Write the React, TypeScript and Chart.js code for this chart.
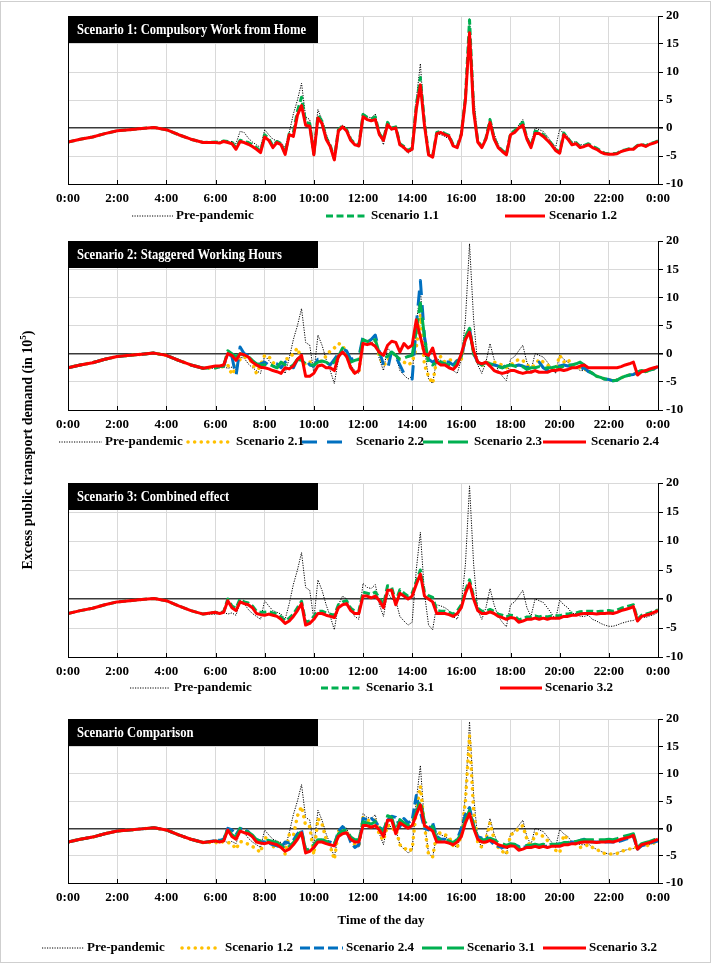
import React, { useEffect, useRef } from "react";
import { Chart, registerables } from "chart.js";
Chart.register(...registerables);

// ---------- DATA ----------
// time of day in minutes (0:00..5:30 every 30 min, then every 10 min to 24:00)
const TIME_MIN = [
  0, 30, 60, 90, 120, 150, 180, 210, 240, 270, 300, 330,
  360, 370, 380, 390, 400, 410,
  420, 430, 440, 450, 460, 470,
  480, 490, 500, 510, 520, 530,
  540, 550, 560, 570, 580, 590,
  600, 610, 620, 630, 640, 650,
  660, 670, 680, 690, 700, 710,
  720, 730, 740, 750, 760, 770,
  780, 790, 800, 810, 820, 830,
  840, 850, 860, 870, 880, 890,
  900, 910, 920, 930, 940, 950,
  960, 970, 980, 990, 1000, 1010,
  1020, 1030, 1040, 1050, 1060, 1070,
  1080, 1090, 1100, 1110, 1120, 1130,
  1140, 1150, 1160, 1170, 1180, 1190,
  1200, 1210, 1220, 1230, 1240, 1250,
  1260, 1270, 1280, 1290, 1300, 1310,
  1320, 1330, 1340, 1350, 1360, 1370,
  1380, 1390, 1400, 1410, 1420, 1430,
  1440,
];

const X_TICK_LABELS = ["0:00", "2:00", "4:00", "6:00", "8:00", "10:00", "12:00", "14:00", "16:00", "18:00", "20:00", "22:00", "0:00"];

const PRE_PANDEMIC = [
  -2.5, -2.0, -1.6, -1.0, -0.5, -0.3, -0.1, 0.1, -0.3, -1.2, -2.0, -2.6,
  -2.6, -2.5, -2.3, -2.6, -2.4, -2.8,
  -0.6, -0.8, -1.8, -2.5, -3.0, -3.5,
  -0.3, -1.2, -2.0, -2.3, -2.6, -3.5,
  -0.8, 2.5, 5.0, 8.0, 2.0, 1.5,
  -3.5, 3.3, 1.5, -1.0, -3.0, -5.3,
  -1.0, 0.5, 0.0, -2.0, -3.0, -3.5,
  2.7, 2.0, 1.8, 2.5, -1.0, -3.0,
  1.1, 0.0, -0.2, -3.0, -3.8, -4.5,
  -4.0, 5.0, 11.5, 1.0, -4.5, -5.3,
  -1.0, -1.2, -1.5, -2.0, -3.0, -3.5,
  -1.0, 6.0, 19.5, 6.0, -2.0, -3.5,
  -1.5, 1.8, -1.0, -3.0, -4.0, -4.8,
  -1.0, -0.5, 0.5, 1.5, -1.5, -3.0,
  0.0, -0.3, -0.6, -1.5, -2.5, -3.5,
  -0.2, -1.0, -1.5, -2.5, -2.5, -3.0,
  -3.0, -2.8, -3.5, -3.8, -4.2, -4.5,
  -4.7, -4.7, -4.5, -4.2, -4.0, -3.8,
  -3.7, -3.2, -3.0, -3.2, -2.9, -2.7,
  -2.3,
];

const SCENARIO_1_1 = [
  -2.5, -2.0, -1.6, -1.0, -0.5, -0.3, -0.1, 0.1, -0.3, -1.2, -2.0, -2.6,
  -2.5, -2.6, -2.3, -2.4, -2.6, -3.5,
  -2.2, -2.4, -2.6, -3.0, -3.5, -4.2,
  -1.2, -1.9, -3.2, -2.4, -2.8, -4.5,
  -1.0, -0.8, 3.0, 5.5, 1.0, 0.8,
  -4.6, 2.3, 1.2, -1.7, -3.1, -5.5,
  -0.3, 0.4, -0.3, -2.0, -2.8, -3.0,
  2.4, 1.9, 1.6, 2.0, -1.0, -2.0,
  1.0, 0.0, 0.2, -2.8, -3.3, -4.0,
  -3.6, 4.0, 9.0, 1.0, -4.6, -5.0,
  -0.8, -0.6, -1.0, -1.3, -3.0, -3.3,
  -1.0, 5.5, 19.3, 3.5, -2.3, -3.3,
  -1.8, 1.5, -1.8, -3.3, -4.0, -4.6,
  -1.0, -0.5, 0.3, 1.0, -1.8, -3.3,
  -0.6, -0.7, -1.2, -2.0, -2.8, -3.8,
  -4.3, -0.9, -1.8, -2.8, -2.6, -3.3,
  -3.1, -2.8, -3.3, -3.6, -4.1, -4.5,
  -4.6, -4.6, -4.5, -4.1, -3.9, -3.7,
  -3.7, -3.1, -2.9, -3.2, -2.8, -2.6,
  -2.3,
];

const SCENARIO_1_2 = [
  -2.5, -2.0, -1.6, -1.0, -0.5, -0.3, -0.1, 0.1, -0.3, -1.2, -2.0, -2.6,
  -2.6, -2.7, -2.4, -2.6, -2.8, -3.8,
  -2.4, -2.6, -2.9, -3.3, -3.8, -4.4,
  -1.6, -2.2, -3.5, -2.6, -3.0, -4.7,
  -1.2, -1.5, 2.3, 4.0, 0.5, 0.3,
  -4.8, 1.8, 0.8, -2.0, -3.3, -5.7,
  -0.5, 0.2, -0.5, -2.2, -3.0, -3.2,
  2.0, 1.5, 1.3, 1.5, -1.2, -2.2,
  0.6, -0.2, 0.0, -3.0, -3.5, -4.2,
  -3.8, 3.3, 7.7, 0.5, -4.8, -5.2,
  -1.0, -0.8, -1.2, -1.5, -3.2, -3.5,
  -1.2, 5.0, 17.0, 3.0, -2.5, -3.5,
  -2.0, 1.0, -2.0, -3.5, -4.2, -4.8,
  -1.2, -0.8, 0.0, 0.5, -2.0, -3.5,
  -1.0, -1.0, -1.5, -2.2, -3.0, -4.0,
  -4.5, -1.2, -2.0, -3.0, -2.8, -3.5,
  -3.3, -3.0, -3.5, -3.8, -4.3, -4.6,
  -4.7, -4.7, -4.6, -4.2, -4.0, -3.8,
  -3.8, -3.2, -3.0, -3.3, -2.9, -2.7,
  -2.4,
];

const SCENARIO_2_1 = [
  -2.5, -2.0, -1.6, -1.0, -0.5, -0.3, -0.1, 0.1, -0.3, -1.2, -2.0, -2.6,
  -2.5, -2.4, -2.3, -2.0, -3.7, -2.5,
  -1.0, -0.5, -1.0, -1.5, -3.5, -2.0,
  -0.3, -0.5, -1.5, -2.5, -2.0, -1.0,
  -0.8, 0.0, 1.0, -1.0, -2.0, -1.5,
  -1.5, -2.0, -1.0, -0.5, 0.5, 1.0,
  1.8, 1.5, 0.0, -2.5, -3.5, -3.0,
  2.5, 2.0, 2.5, 2.3, -0.5, -2.0,
  -1.5, 0.5, -0.5, -1.0, -1.5, -2.0,
  -1.5, 1.0, 7.0, -2.0, -4.0, -5.3,
  -1.0, -0.5, -1.5, -1.2, -1.0, -1.5,
  -1.0, 3.0, 4.5, 0.0, -1.5, -2.0,
  -2.0, -1.5, -1.5, -1.8, -2.0, -2.5,
  -2.0, -1.5, -1.0, -1.2, -2.0, -2.5,
  -2.0, -1.0, -1.5, -2.0, -2.5, -3.0,
  -0.3, -1.5, -1.0, -2.0, -2.2, -2.5,
  -2.8, -3.0, -3.5, -4.0, -4.2, -4.5,
  -4.6, -4.8, -4.7, -4.3, -4.0, -3.8,
  -3.7, -3.3, -3.0, -3.2, -2.9, -2.7,
  -2.3,
];

const SCENARIO_2_2 = [
  -2.5, -2.0, -1.6, -1.0, -0.5, -0.3, -0.1, 0.1, -0.3, -1.2, -2.0, -2.6,
  -2.5, -2.3, -2.2, 0.0, -0.5, -4.0,
  1.2, 0.0, -0.3, -0.8, -2.0, -1.8,
  -1.5, -2.0, -1.5, -1.8, -2.5, -1.5,
  -1.2, -2.5, -1.0, -0.5, -1.0, -2.0,
  -2.2, -1.0, -1.2, -1.5, -2.0, -1.0,
  0.0, 0.8, 0.5, -1.0, -0.8, -0.5,
  3.0, 2.0, 2.5, 3.3, 0.5, -2.0,
  -2.8, 0.5, -0.5, -2.0, -3.5, -4.3,
  -4.5, 5.0, 13.0, 3.0, -1.0, -1.5,
  -1.0, -1.2, -1.5, -1.5, -2.0, -1.2,
  -1.0, 3.0, 4.5, 0.0, -1.5, -2.0,
  -2.0, -1.8, -2.0, -2.2, -2.5, -2.0,
  -2.0, -2.2, -2.0, -2.2, -2.5, -2.2,
  -2.0, -1.5, -2.5, -3.0, -2.5, -2.2,
  -2.2, -2.0, -2.2, -2.0, -2.5, -2.8,
  -2.5, -3.2, -3.5, -4.0, -4.2, -4.5,
  -4.6, -4.8, -4.7, -4.3, -4.0, -3.8,
  -3.7, -3.3, -3.0, -3.2, -2.9, -2.7,
  -2.3,
];

const SCENARIO_2_3 = [
  -2.5, -2.0, -1.6, -1.0, -0.5, -0.3, -0.1, 0.1, -0.3, -1.2, -2.0, -2.6,
  -2.5, -2.3, -2.2, 0.5, 0.0, -0.5,
  0.0, -0.3, -0.5, -1.2, -1.8, -2.0,
  -2.0, -1.8, -2.2, -2.5, -1.5, -2.0,
  -2.5, -2.0, -1.0, -1.2, -1.8, -2.0,
  -2.0, -1.5, -1.3, -1.5, -2.0, -1.5,
  -0.5, 1.0, -0.5, -1.5, -1.2, -1.0,
  2.5, 2.2, 2.0, 2.5, 0.0, -0.8,
  -0.5, 0.3, -0.3, -1.0, -0.8, -0.5,
  -0.3, 4.0, 9.0, 3.0, -1.8, -2.0,
  -1.5, -1.5, -1.8, -2.0, -2.5, -1.5,
  -0.5, 3.0, 4.5, 0.0, -1.5, -2.0,
  -1.5, -1.8, -2.0, -2.3, -2.5, -2.2,
  -2.0, -2.2, -2.5, -2.3, -2.8, -2.5,
  -2.5, -2.3, -2.7, -2.5, -2.5, -2.3,
  -2.5, -2.2, -2.0, -2.0, -1.8, -1.5,
  -2.0, -3.0, -3.5, -4.0, -4.2, -4.5,
  -4.6, -4.8, -4.7, -4.3, -4.0, -3.8,
  -3.7, -3.3, -3.0, -3.2, -2.9, -2.7,
  -2.3,
];

const SCENARIO_2_4 = [
  -2.5, -2.0, -1.6, -1.0, -0.5, -0.3, -0.1, 0.1, -0.3, -1.2, -2.0, -2.6,
  -2.2, -2.2, -2.0, 0.0, -0.3, -1.2,
  0.0, -0.2, -0.6, -1.5, -2.0, -2.4,
  -2.5, -2.7, -3.0, -3.2, -3.5, -2.5,
  -2.7, -2.2, -1.0, -0.3, -4.0, -4.0,
  -3.5, -2.2, -2.0, -2.5, -2.5, -3.0,
  -0.5, 0.3, -0.5, -2.5, -3.5, -3.0,
  1.8, 1.6, 1.8, 1.3, 0.2, -0.3,
  1.5, 2.2, 2.0, 0.3, 1.8, 1.0,
  1.5, 6.0, 3.0, 0.0, -0.3, 1.0,
  -1.5, -2.0, -2.0, -2.5, -2.8, -2.0,
  0.0, 2.5, 3.8, 0.5, -1.5, -1.8,
  -1.5, -2.2, -3.0, -3.3, -3.5, -3.3,
  -3.0, -3.0, -3.3, -3.5, -3.3, -3.3,
  -3.0, -3.3, -3.3, -3.3, -3.0, -3.0,
  -2.8, -3.0, -2.8, -2.5, -2.5, -2.2,
  -2.0, -2.5, -2.5, -2.5, -2.5, -2.5,
  -2.5, -2.5, -2.5, -2.3, -2.0, -1.8,
  -1.5, -3.8, -3.2, -3.0, -2.7, -2.5,
  -2.3,
];

const SCENARIO_3_1 = [
  -2.5, -2.0, -1.6, -1.0, -0.5, -0.3, -0.1, 0.1, -0.3, -1.2, -2.0, -2.6,
  -2.3, -2.4, -2.2, 0.0, -1.2, -1.6,
  0.0, -0.5, -0.7, -1.2, -2.1, -2.3,
  -2.3, -2.2, -2.4, -2.6, -3.1, -3.8,
  -3.3, -2.6, -1.5, -0.4, -4.0, -3.8,
  -3.0, -2.1, -2.1, -2.4, -2.6, -2.8,
  -1.0, -0.5, -0.3, -1.6, -2.1, -2.1,
  1.2, 1.0, 0.8, 1.2, 0.2, -1.0,
  2.3, 2.0, -0.5, 1.6, 1.0, 0.5,
  1.0, 3.0, 5.0, 1.2, 0.6, 0.3,
  -2.0, -2.1, -2.1, -2.3, -2.6, -2.1,
  -1.0, 1.5, 3.3, 0.4, -1.6, -2.1,
  -2.1, -1.8, -2.1, -2.6, -2.8, -3.1,
  -2.8, -2.9, -3.6, -3.4, -3.1, -3.1,
  -2.9, -3.1, -2.9, -3.1, -2.9, -2.9,
  -2.9, -2.6, -2.6, -2.4, -2.4, -2.2,
  -2.1, -2.1, -2.1, -2.2, -2.1, -2.1,
  -2.0, -2.1, -1.9, -1.6, -1.4, -1.2,
  -1.0, -3.5, -2.8, -2.6, -2.4, -2.1,
  -1.9,
];

const SCENARIO_3_2 = [
  -2.5, -2.0, -1.6, -1.0, -0.5, -0.3, -0.1, 0.1, -0.3, -1.2, -2.0, -2.6,
  -2.3, -2.5, -2.3, -0.3, -1.5, -2.0,
  -0.5, -0.8, -1.0, -1.5, -2.5, -2.7,
  -2.8, -2.6, -2.8, -3.0, -3.5, -4.2,
  -3.8, -3.0, -2.0, -0.8, -4.5, -4.2,
  -3.5, -2.5, -2.5, -2.8, -3.0, -3.2,
  -1.5, -1.0, -0.8, -2.0, -2.5, -2.5,
  0.5, 0.5, 0.2, 0.5, -0.3, -1.5,
  1.5, 1.5, -1.0, 1.0, 0.5, 0.0,
  0.5, 2.5, 4.3, 0.5, 0.0, -0.5,
  -2.5, -2.5, -2.5, -2.7, -3.0, -2.5,
  -1.5, 1.0, 2.7, 0.0, -2.0, -2.5,
  -2.5, -2.2, -2.5, -3.0, -3.2, -3.5,
  -3.2, -3.3, -4.0, -3.8, -3.5, -3.5,
  -3.3, -3.5, -3.3, -3.5, -3.3, -3.3,
  -3.3, -3.0, -3.0, -2.8, -2.8, -2.6,
  -2.5, -2.5, -2.5, -2.6, -2.5, -2.5,
  -2.4, -2.5, -2.3, -2.0, -1.8, -1.6,
  -1.3, -3.8, -3.0, -2.8, -2.6, -2.3,
  -2.0,
];

const PANEL_TITLES = [
  "Scenario 1: Compulsory Work from Home",
  "Scenario 2: Staggered Working Hours",
  "Scenario 3: Combined effect",
  "Scenario Comparison",
];
const Y_TITLE = "Excess public transport demand (in 10";
const X_TITLE = "Time of the day";

// ---------- STYLES ----------
const FONT = '"Liberation Serif", "Times New Roman", serif';
const RED = "#FF0000";
const GREEN = "#00B050";
const BLUE = "#0070C0";
const YELLOW = "#FFC000";

type Sty = { color: string; width: number; dash: number[]; cap: CanvasLineCap };
const S_PRE: Sty = { color: "#000000", width: 1, dash: [1.2, 1.3], cap: "butt" };
const S_RED: Sty = { color: RED, width: 3, dash: [], cap: "butt" };
const S_GREEN_DASH: Sty = { color: GREEN, width: 3, dash: [7, 3.5], cap: "butt" };
const S_GREEN_LONG: Sty = { color: GREEN, width: 3, dash: [20, 5], cap: "butt" };
const S_BLUE_LONG: Sty = { color: BLUE, width: 3, dash: [15, 10], cap: "butt" };
const S_BLUE_DASH: Sty = { color: BLUE, width: 3, dash: [10, 4], cap: "butt" };
const S_YELLOW_DOT: Sty = { color: YELLOW, width: 3.5, dash: [0.1, 6.5], cap: "round" };

type Item = { label: string; data: number[]; sty: Sty; x1: number; x2: number; tx: number };
type Panel = { title: string; top: number; bottom: number; legendY: number; items: Item[]; xTitle?: boolean };

const PANELS: Panel[] = [
  {
    title: PANEL_TITLES[0], top: 16, bottom: 184, legendY: 216,
    items: [
      { label: "Pre-pandemic", data: PRE_PANDEMIC, sty: S_PRE, x1: 132, x2: 173, tx: 176 },
      { label: "Scenario 1.1", data: SCENARIO_1_1, sty: S_GREEN_DASH, x1: 326, x2: 368, tx: 371 },
      { label: "Scenario 1.2", data: SCENARIO_1_2, sty: S_RED, x1: 505, x2: 545, tx: 549 },
    ],
  },
  {
    title: PANEL_TITLES[1], top: 241, bottom: 410, legendY: 442,
    items: [
      { label: "Pre-pandemic", data: PRE_PANDEMIC, sty: S_PRE, x1: 59, x2: 102, tx: 105 },
      { label: "Scenario 2.1", data: SCENARIO_2_1, sty: S_YELLOW_DOT, x1: 188, x2: 228, tx: 236 },
      { label: "Scenario 2.2", data: SCENARIO_2_2, sty: S_BLUE_LONG, x1: 302, x2: 344, tx: 356 },
      { label: "Scenario 2.3", data: SCENARIO_2_3, sty: S_GREEN_LONG, x1: 423, x2: 468, tx: 474 },
      { label: "Scenario 2.4", data: SCENARIO_2_4, sty: S_RED, x1: 543, x2: 586, tx: 591 },
    ],
  },
  {
    title: PANEL_TITLES[2], top: 483, bottom: 657, legendY: 688,
    items: [
      { label: "Pre-pandemic", data: PRE_PANDEMIC, sty: S_PRE, x1: 130, x2: 170, tx: 174 },
      { label: "Scenario 3.1", data: SCENARIO_3_1, sty: S_GREEN_DASH, x1: 321, x2: 362, tx: 366 },
      { label: "Scenario 3.2", data: SCENARIO_3_2, sty: S_RED, x1: 500, x2: 542, tx: 545 },
    ],
  },
  {
    title: PANEL_TITLES[3], top: 719, bottom: 883, legendY: 948, xTitle: true,
    items: [
      { label: "Pre-pandemic", data: PRE_PANDEMIC, sty: S_PRE, x1: 42, x2: 84, tx: 87 },
      { label: "Scenario 1.2", data: SCENARIO_1_2, sty: S_YELLOW_DOT, x1: 182, x2: 220, tx: 225 },
      { label: "Scenario 2.4", data: SCENARIO_2_4, sty: S_BLUE_DASH, x1: 300, x2: 343, tx: 346 },
      { label: "Scenario 3.1", data: SCENARIO_3_1, sty: S_GREEN_LONG, x1: 422, x2: 464, tx: 467 },
      { label: "Scenario 3.2", data: SCENARIO_3_2, sty: S_RED, x1: 543, x2: 586, tx: 589 },
    ],
  },
];

const W = 712;
const H = 964;
const PLOT_LEFT = 68;
const PLOT_RIGHT = 658;
const X_AXIS_H = 30;
const TITLE_CONDENSE = 0.9;

const decorPlugin = {
  id: "panelDecor",
  afterDraw(chart: any, _args: any, opts: any) {
    const ctx = chart.ctx as CanvasRenderingContext2D;
    const ca = chart.chartArea;
    const panel: Panel = opts.panel;
    ctx.save();
    // left border
    ctx.strokeStyle = "#000";
    ctx.lineWidth = 1;
    ctx.setLineDash([]);
    ctx.beginPath();
    ctx.moveTo(ca.left + 0.5, ca.top);
    ctx.lineTo(ca.left + 0.5, ca.bottom);
    ctx.stroke();
    // inside ticks on x axis
    const xs = chart.scales.x;
    xs.ticks.forEach((t: any) => {
      const px = Math.round(xs.getPixelForValue(t.value)) + 0.5;
      ctx.beginPath();
      ctx.moveTo(px, ca.bottom);
      ctx.lineTo(px, ca.bottom - 4);
      ctx.stroke();
    });
    // title box
    ctx.fillStyle = "#000";
    ctx.fillRect(ca.left, ca.top, 250, 27);
    ctx.fillStyle = "#fff";
    ctx.font = `bold 14px ${FONT}`;
    ctx.textBaseline = "middle";
    ctx.textAlign = "left";
    const tw = ctx.measureText(panel.title).width * TITLE_CONDENSE;
    ctx.fillText(panel.title, ca.left + 9, ca.top + 14, tw);
    // legend
    ctx.font = `bold 13px ${FONT}`;
    panel.items.forEach((it) => {
      ctx.strokeStyle = it.sty.color;
      ctx.lineWidth = it.sty.width;
      ctx.lineCap = it.sty.cap;
      ctx.setLineDash(it.sty.dash);
      ctx.beginPath();
      ctx.moveTo(it.x1, panel.legendY);
      ctx.lineTo(it.x2, panel.legendY);
      ctx.stroke();
      ctx.setLineDash([]);
      ctx.lineCap = "butt";
      ctx.fillStyle = "#000";
      ctx.fillText(it.label, it.tx, panel.legendY);
    });
    if (panel.xTitle) {
      ctx.textAlign = "center";
      ctx.fillText(X_TITLE, 381, 921);
    }
    ctx.restore();
  },
};

function buildConfig(panel: Panel): any {
  const n = panel.items.length;
  const datasets = panel.items.map((it, i) => ({
    label: it.label,
    data: TIME_MIN.map((t, k) => ({ x: t, y: it.data[k] })),
    borderColor: it.sty.color,
    backgroundColor: it.sty.color,
    borderWidth: it.sty.width,
    borderDash: it.sty.dash,
    borderCapStyle: it.sty.cap,
    borderJoinStyle: "round",
    pointRadius: 0,
    tension: 0,
    fill: false,
    order: n - i,
  }));
  return {
    type: "line",
    data: { datasets },
    plugins: [decorPlugin],
    options: {
      responsive: false,
      animation: false,
      events: [],
      layout: {
        padding: { left: PLOT_LEFT, right: 0, top: panel.top, bottom: H - panel.bottom - X_AXIS_H },
      },
      plugins: {
        legend: { display: false },
        title: { display: false },
        tooltip: { enabled: false },
        panelDecor: { panel },
      },
      scales: {
        x: {
          type: "linear",
          min: 0,
          max: 1440,
          ticks: {
            stepSize: 120,
            autoSkip: false,
            maxRotation: 0,
            color: "#000",
            padding: 7,
            font: { family: FONT, size: 13, weight: "bold" },
            callback: (_v: any, i: number) => X_TICK_LABELS[i],
          },
          grid: { color: "#d9d9d9", lineWidth: 1, drawTicks: false },
          border: { color: "#000", width: 1 },
          afterFit: (s: any) => {
            s.height = X_AXIS_H;
          },
        },
        y: {
          position: "right",
          min: -10,
          max: 20,
          ticks: {
            stepSize: 5,
            color: "#000",
            padding: 3,
            font: { family: FONT, size: 13, weight: "bold" },
          },
          grid: {
            color: (c: any) => (c.tick && c.tick.value === 0 ? "#3a3a3a" : "#d9d9d9"),
            lineWidth: (c: any) => (c.tick && c.tick.value === 0 ? 1.6 : 1),
            drawTicks: true,
            tickLength: 5,
            tickColor: "#000",
          },
          border: { color: "#000", width: 1 },
          afterFit: (s: any) => {
            s.width = W - PLOT_RIGHT;
          },
        },
      },
    },
  };
}

export default function App() {
  const refs = [useRef<HTMLCanvasElement>(null), useRef<HTMLCanvasElement>(null), useRef<HTMLCanvasElement>(null), useRef<HTMLCanvasElement>(null)];
  useEffect(() => {
    document.body.style.margin = "0";
    const charts = PANELS.map((p, i) => new Chart(refs[i].current as HTMLCanvasElement, buildConfig(p)));
    return () => charts.forEach((c) => c.destroy());
  }, []);
  return (
    <div style={{ position: "absolute", left: 0, top: 0, width: W, height: H, background: "#fff", overflow: "hidden" }}>
      <div style={{ position: "absolute", left: 0, top: 1, width: 711, height: 962, border: "1px solid #cfcfcf", boxSizing: "border-box" }} />
      {refs.map((r, i) => (
        <canvas key={i} ref={r} width={W} height={H} style={{ position: "absolute", left: 0, top: 0 }} />
      ))}
      <div
        style={{
          position: "absolute",
          left: 23 - 160,
          top: 450 - 10,
          width: 320,
          height: 20,
          lineHeight: "20px",
          textAlign: "center",
          transform: "rotate(-90deg)",
          transformOrigin: "center center",
          fontFamily: FONT,
          fontWeight: "bold",
          fontSize: 14,
          color: "#000",
          whiteSpace: "nowrap",
        }}
      >
        {Y_TITLE}
        <sup style={{ fontSize: 9 }}>5</sup>)
      </div>
    </div>
  );
}
